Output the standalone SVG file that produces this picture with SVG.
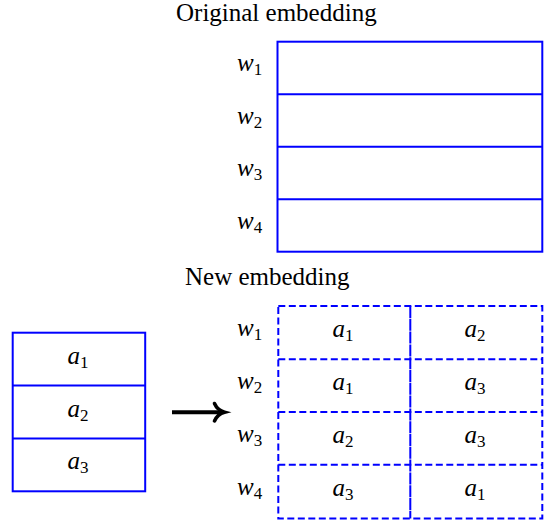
<svg xmlns="http://www.w3.org/2000/svg" width="546" height="520" viewBox="0 0 546 520">
<style>
text{font-family:'Liberation Serif','DejaVu Serif',serif;fill:#000}
.title{font-size:25px}
.m{font-size:25px}
.mi{font-style:italic}
.sub{font-size:17px;font-style:normal}
.box{fill:none;stroke:#0000ff;stroke-width:2}
.dash{fill:none;stroke:#0000ff;stroke-width:2;stroke-dasharray:7 3.5}
.ctr{text-anchor:middle}
</style>
<rect width="546" height="520" fill="#fff"/>
<g id="original-embedding">
  <text class="title" x="176" y="21">Original embedding</text>
  <rect class="box" x="277.5" y="41.7" width="264.8" height="210"/>
  <line class="box" x1="277.5" y1="94.2" x2="542.3" y2="94.2"/>
  <line class="box" x1="277.5" y1="146.7" x2="542.3" y2="146.7"/>
  <line class="box" x1="277.5" y1="199.2" x2="542.3" y2="199.2"/>
  <text class="m" x="237" y="71"><tspan class="mi">w</tspan><tspan class="sub" dy="4">1</tspan></text>
  <text class="m" x="237" y="123.5"><tspan class="mi">w</tspan><tspan class="sub" dy="4">2</tspan></text>
  <text class="m" x="237" y="176"><tspan class="mi">w</tspan><tspan class="sub" dy="4">3</tspan></text>
  <text class="m" x="237" y="228.5"><tspan class="mi">w</tspan><tspan class="sub" dy="4">4</tspan></text>
</g>
<g id="source-vectors">
  <rect class="box" x="12.7" y="332.7" width="132.5" height="158.6"/>
  <line class="box" x1="12.7" y1="385.6" x2="145.2" y2="385.6"/>
  <line class="box" x1="12.7" y1="438.4" x2="145.2" y2="438.4"/>
  <text class="m ctr" x="78" y="363.5"><tspan class="mi">a</tspan><tspan class="sub" dy="4">1</tspan></text>
  <text class="m ctr" x="78" y="416.5"><tspan class="mi">a</tspan><tspan class="sub" dy="4">2</tspan></text>
  <text class="m ctr" x="78" y="469"><tspan class="mi">a</tspan><tspan class="sub" dy="4">3</tspan></text>
</g>
<g id="connectors">
  <line x1="172" y1="412.2" x2="222" y2="412.2" stroke="#000" stroke-width="4"/>
  <path d="M214.5,403.5 C216.5,408 220,411 224.5,412.2 C220,413.4 216.5,416.4 214.5,420.9" fill="none" stroke="#000" stroke-width="3.6" stroke-linecap="round"/>
</g>
<g id="new-embedding">
  <text class="title" x="185" y="285">New embedding</text>
  <rect class="dash" x="278.3" y="306" width="264" height="212.5"/>
  <line class="dash" x1="278.3" y1="359.2" x2="542.3" y2="359.2"/>
  <line class="dash" x1="278.3" y1="412" x2="542.3" y2="412"/>
  <line class="dash" x1="278.3" y1="464.8" x2="542.3" y2="464.8"/>
  <line x1="410.3" y1="306" x2="410.3" y2="518.5" stroke="#0000ff" stroke-width="2" stroke-dasharray="12 0.8"/>
  <text class="m" x="237" y="335.5"><tspan class="mi">w</tspan><tspan class="sub" dy="4">1</tspan></text>
  <text class="m" x="237" y="388.5"><tspan class="mi">w</tspan><tspan class="sub" dy="4">2</tspan></text>
  <text class="m" x="237" y="441.5"><tspan class="mi">w</tspan><tspan class="sub" dy="4">3</tspan></text>
  <text class="m" x="237" y="494.5"><tspan class="mi">w</tspan><tspan class="sub" dy="4">4</tspan></text>
  <text class="m ctr" x="343" y="336.5"><tspan class="mi">a</tspan><tspan class="sub" dy="4">1</tspan></text>
  <text class="m ctr" x="475" y="336.5"><tspan class="mi">a</tspan><tspan class="sub" dy="4">2</tspan></text>
  <text class="m ctr" x="343" y="389.5"><tspan class="mi">a</tspan><tspan class="sub" dy="4">1</tspan></text>
  <text class="m ctr" x="475" y="389.5"><tspan class="mi">a</tspan><tspan class="sub" dy="4">3</tspan></text>
  <text class="m ctr" x="343" y="442.5"><tspan class="mi">a</tspan><tspan class="sub" dy="4">2</tspan></text>
  <text class="m ctr" x="475" y="442.5"><tspan class="mi">a</tspan><tspan class="sub" dy="4">3</tspan></text>
  <text class="m ctr" x="343" y="495.5"><tspan class="mi">a</tspan><tspan class="sub" dy="4">3</tspan></text>
  <text class="m ctr" x="475" y="495.5"><tspan class="mi">a</tspan><tspan class="sub" dy="4">1</tspan></text>
</g>
</svg>
